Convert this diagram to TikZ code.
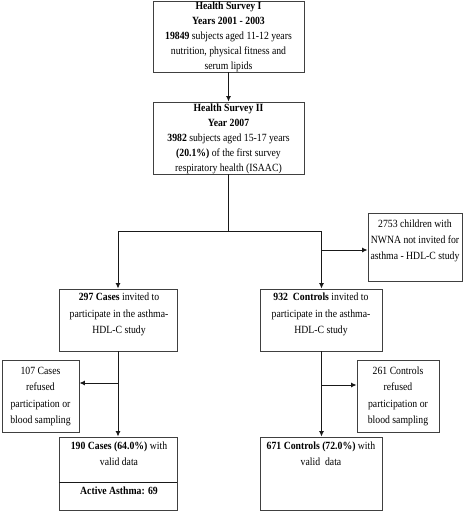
\documentclass[tikz,border=0pt]{standalone}
\usepackage{fontspec}
\setmainfont{Liberation Serif}[FakeStretch=0.885]
\usetikzlibrary{arrows.meta}
\begin{document}
\begin{tikzpicture}[x=1pt,y=-1pt,
 box/.style={draw=black!75,line width=0.9pt,inner sep=0pt,rectangle},
 txt/.style={align=center,inner sep=0pt,font=\fontsize{11}{15}\selectfont},
 txtb/.style={align=center,inner sep=0pt,font=\fontsize{11}{16.3}\selectfont},
 conn/.style={draw=black!90,line width=0.9pt},
 arr/.style={conn,-{Latex[length=5.5pt,width=5pt]}}]
\useasboundingbox (0,0) rectangle (472,512);
% boxes
\node[box,minimum width=151pt,minimum height=71pt] (b1) at (228.5,36.5) {};
\node[box,minimum width=151pt,minimum height=72pt] (b2) at (228.5,138) {};
\node[box,minimum width=94pt,minimum height=68pt] (n) at (415,247) {};
\node[box,minimum width=118pt,minimum height=62pt] (c1) at (118,320) {};
\node[box,minimum width=122pt,minimum height=62pt] (c2) at (321.5,320) {};
\node[box,minimum width=77pt,minimum height=72pt] (r1) at (40.5,396) {};
\node[box,minimum width=82pt,minimum height=72pt] (r2) at (398,396) {};
\node[box,minimum width=118pt,minimum height=73pt] (d1) at (118,473.5) {};
\node[box,minimum width=122pt,minimum height=73pt] (d2) at (321.5,473.5) {};
\coordinate (dl) at (59,482);
\coordinate (dr) at (177,482);
\draw[conn] (dl) -- (dr);
% texts
\node[txt] (t1) at (228.5,37) {\textbf{Health Survey I}\\\textbf{Years 2001 - 2003}\\\textbf{19849} subjects aged 11-12 years\\nutrition, physical fitness and\\serum lipids};
\node[txt] (t2) at (228.5,139) {\textbf{Health Survey II}\\\textbf{Year 2007}\\\textbf{3982} subjects aged 15-17 years\\\textbf{(20.1\%)} of the first survey\\respiratory health (ISAAC)};
\node[txtb] (tn) at (415,241) {2753 children with\\NWNA not invited for\\asthma - HDL-C study};
\node[txtb] (tc1) at (119,314.5) {\textbf{297 Cases} invited to\\participate in the asthma-\\HDL-C study};
\node[txtb] (tc2) at (321,314.5) {\textbf{932\ \ Controls} invited to\\participate in the asthma-\\HDL-C study};
\node[txtb] (tr1) at (40.5,396.5) {107 Cases\\refused\\participation or\\blood sampling};
\node[txtb] (tr2) at (398,396.5) {261 Controls\\refused\\participation or\\blood sampling};
\node[txtb] (td1) at (119,454) {\textbf{190 Cases (64.0\%)} with\\valid data};
\node[txtb] (ta) at (119,491) {\textbf{Active Asthma: 69}};
\node[txtb] (td2) at (321,454) {\textbf{671 Controls (72.0\%)} with\\valid\ \ data};
% connectors
\draw[arr] (b1.south) -- (b2.north);
\coordinate (j) at (228.5,231);
\draw[conn] (b2.south) -- (j);
\draw[arr] (j) -| (c1.north);
\draw[arr] (j) -| (c2.north);
\coordinate (bn) at (321.5,250);
\draw[arr] (bn) -- (bn -| n.west);
\draw[arr] (c1.south) -- (d1.north);
\coordinate (b3) at (118,383);
\draw[arr] (b3) -- (b3 -| r1.east);
\draw[arr] (c2.south) -- (d2.north);
\coordinate (b4) at (321.5,385);
\draw[arr] (b4) -- (b4 -| r2.west);
\end{tikzpicture}
\end{document}
